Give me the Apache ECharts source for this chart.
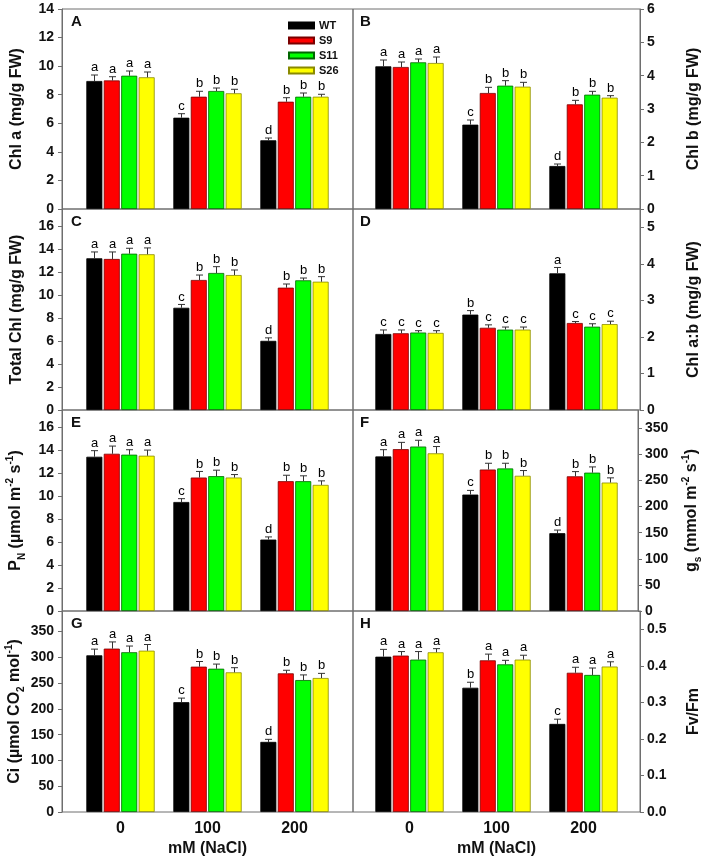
<!DOCTYPE html>
<html><head><meta charset="utf-8">
<script src="https://cdn.jsdelivr.net/npm/echarts@6/dist/echarts.min.js"></script>
<style>html,body{margin:0;padding:0;background:#fff}#c{width:704px;height:860px}</style>
</head><body><div id="c"></div><script>
// ---------------- data ----------------
const categories = ['0', '100', '200'];
const genotypes = ['WT', 'S9', 'S11', 'S26'];

// each array: one row per genotype (WT, S9, S11, S26), one value per NaCl level
const chlA_mean = [[8.96, 6.39, 4.81], [9.00, 7.86, 7.51], [9.33, 8.26, 7.86], [9.22, 8.10, 7.86]];
const chlA_se   = [[0.42, 0.28, 0.16], [0.26, 0.38, 0.28], [0.33, 0.21, 0.26], [0.37, 0.28, 0.17]];
const chlA_let  = [['a', 'c', 'd'], ['a', 'b', 'b'], ['a', 'b', 'b'], ['a', 'b', 'b']];

const chlB_mean = [[4.28, 2.53, 1.29], [4.26, 3.48, 3.14], [4.40, 3.70, 3.43], [4.38, 3.67, 3.34]];
const chlB_se   = [[0.19, 0.14, 0.06], [0.15, 0.17, 0.12], [0.10, 0.15, 0.10], [0.18, 0.13, 0.06]];
const chlB_let  = [['a', 'c', 'd'], ['a', 'b', 'b'], ['a', 'b', 'b'], ['a', 'b', 'b']];

const totChl_mean = [[13.21, 8.90, 6.02], [13.15, 11.32, 10.65], [13.61, 11.93, 11.29], [13.56, 11.75, 11.17]];
const totChl_se   = [[0.55, 0.29, 0.26], [0.61, 0.43, 0.32], [0.47, 0.55, 0.20], [0.55, 0.44, 0.44]];
const totChl_let  = [['a', 'c', 'd'], ['a', 'b', 'b'], ['a', 'b', 'b'], ['a', 'b', 'b']];

const ratio_mean = [[2.08, 2.61, 3.74], [2.10, 2.25, 2.38], [2.12, 2.20, 2.28], [2.11, 2.20, 2.35]];
const ratio_se   = [[0.11, 0.11, 0.16], [0.09, 0.08, 0.04], [0.05, 0.07, 0.08], [0.06, 0.07, 0.08]];
const ratio_let  = [['c', 'b', 'a'], ['c', 'c', 'c'], ['c', 'c', 'c'], ['c', 'c', 'c']];

const pn_mean = [[13.43, 9.49, 6.22], [13.69, 11.62, 11.30], [13.61, 11.74, 11.30], [13.52, 11.62, 10.98]];
const pn_se   = [[0.53, 0.29, 0.23], [0.67, 0.53, 0.52], [0.43, 0.52, 0.47], [0.49, 0.26, 0.35]];
const pn_let  = [['a', 'c', 'd'], ['a', 'b', 'b'], ['a', 'b', 'b'], ['a', 'b', 'b']];

const gs_mean = [[296, 223, 149], [310, 271, 258], [315, 273, 265], [302, 259, 246]];
const gs_se   = [[13, 8, 6], [13, 12, 9], [12, 10, 11], [13, 10, 9]];
const gs_let  = [['a', 'c', 'd'], ['a', 'b', 'b'], ['a', 'b', 'b'], ['a', 'b', 'b']];

const ci_mean = [[304, 213, 136], [317, 282, 269], [310, 278, 256], [313, 271, 260]];
const ci_se   = [[12, 8, 5], [13, 10, 6], [12, 9, 10], [12, 9, 9]];
const ci_let  = [['a', 'c', 'd'], ['a', 'b', 'b'], ['a', 'b', 'b'], ['a', 'b', 'b']];

const fvfm_mean = [[0.425, 0.340, 0.241], [0.428, 0.415, 0.381], [0.417, 0.404, 0.375], [0.437, 0.417, 0.398]];
const fvfm_se   = [[0.020, 0.015, 0.013], [0.011, 0.017, 0.015], [0.022, 0.011, 0.019], [0.010, 0.012, 0.013]];
const fvfm_let  = [['a', 'b', 'c'], ['a', 'a', 'a'], ['a', 'a', 'a'], ['a', 'a', 'a']];

// ---------------- styling / layout ----------------
const FONT = '"Liberation Sans", Arial, sans-serif';
const fills = ['#000000', '#ff0000', '#00ff00', '#ffff00'];
const borders = ['#000000', '#7a0000', '#006600', '#8a8a00'];
const BAR_W = 16, BAR_GAP = 0.09;
const PITCH = BAR_W * (1 + BAR_GAP);
const FRAME = '#6e6e6e';

const rowsTop = [9, 209, 410, 611];
const rowsBot = [209, 410, 611, 812];
const colFrame = [{ left: 62, right: 353 }, { left: 353, right: 640 }];
const BAND = 87;

const T = { fontSize: 16, fontWeight: 'bold', fontFamily: FONT, color: '#111' };
const richBase = {
  b: { fontSize: 16, fontWeight: 'bold', fontFamily: FONT, color: '#111', lineHeight: 22 },
  sub: { fontSize: 10, fontWeight: 'bold', fontFamily: FONT, color: '#111', verticalAlign: 'bottom', lineHeight: 22 },
  sup: { fontSize: 10, fontWeight: 'bold', fontFamily: FONT, color: '#111', verticalAlign: 'top', lineHeight: 22 }
};

const panels = [
  { tag: 'A', r: 0, c: 0, mean: chlA_mean, se: chlA_se, let: chlA_let, max: 14, interval: 2, showMax: true,
    name: '{b|Chl a (mg/g FW)}', gap: 34 },
  { tag: 'B', r: 0, c: 1, mean: chlB_mean, se: chlB_se, let: chlB_let, max: 6, interval: 1, showMax: true,
    name: '{b|Chl b (mg/g FW)}', gap: 43 },
  { tag: 'C', r: 1, c: 0, mean: totChl_mean, se: totChl_se, let: totChl_let, max: 17.5, interval: 2, showMax: false,
    name: '{b|Total Chl (mg/g FW)}', gap: 34 },
  { tag: 'D', r: 1, c: 1, mean: ratio_mean, se: ratio_se, let: ratio_let, max: 5.5, interval: 1, showMax: false,
    name: '{b|Chl a:b (mg/g FW)}', gap: 43 },
  { tag: 'E', r: 2, c: 0, mean: pn_mean, se: pn_se, let: pn_let, max: 17.5, interval: 2, showMax: false,
    name: '{b|P}{sub|N}{b| (µmol m}{sup|-2}{b| s}{sup|-1}{b|)}', gap: 35 },
  { tag: 'F', r: 2, c: 1, mean: gs_mean, se: gs_se, let: gs_let, max: 385, interval: 50, showMax: false,
    name: '{b|g}{sub|s}{b| (mmol m}{sup|-2}{b| s}{sup|-1}{b|)}', gap: 43 },
  { tag: 'G', r: 3, c: 0, mean: ci_mean, se: ci_se, let: ci_let, max: 390, interval: 50, showMax: false,
    name: '{b|Ci (µmol CO}{sub|2}{b| mol}{sup|-1}{b|)}', gap: 36 },
  { tag: 'H', r: 3, c: 1, mean: fvfm_mean, se: fvfm_se, let: fvfm_let, max: 0.55, interval: 0.1, showMax: false,
    name: '{b|Fv/Fm}', gap: 43, fmt: v => v.toFixed(1) }
];

const grid = [], xAxis = [], yAxis = [], series = [], title = [];

function errRenderer(g, letters) {
  return function (params, api) {
    const cat = api.value(0), m = api.value(1), s = api.value(2);
    const base = api.coord([cat, m]);
    const top = api.coord([cat, m + s]);
    const x = Math.round(base[0] + (g - 1.5) * PITCH) + 0.5;
    const cap = 3.5;
    return {
      type: 'group',
      children: [
        { type: 'line', shape: { x1: x, y1: base[1], x2: x, y2: top[1] }, style: { stroke: '#333', lineWidth: 1 } },
        { type: 'line', shape: { x1: x - cap, y1: top[1], x2: x + cap, y2: top[1] }, style: { stroke: '#333', lineWidth: 1 } },
        { type: 'text', style: { text: letters[params.dataIndex], x: x, y: top[1] - 1, align: 'center', verticalAlign: 'bottom',
            font: '13px ' + FONT, fill: '#000' } }
      ]
    };
  };
}

panels.forEach((p, k) => {
  const f = colFrame[p.c];
  const top = rowsTop[p.r], bot = rowsBot[p.r];
  const height = bot - top;
  const width = f.right - f.left;
  const center = (f.left + f.right) / 2;
  const isBottom = p.r === 3;
  const isRight = p.c === 1;

  // frame grid (box, y ticks/labels, y title)
  const fi = grid.length;
  grid.push({ left: f.left, top: top, width: width, height: height, show: true,
    borderColor: FRAME, borderWidth: 1, backgroundColor: 'transparent', containLabel: false });
  xAxis.push({ gridIndex: fi, type: 'value', min: 1, max: 2, show: false,
    axisLine: { show: false, onZero: false }, axisTick: { show: false }, axisLabel: { show: false }, splitLine: { show: false } });
  yAxis.push({
    gridIndex: fi, type: 'value', min: 0, max: p.max, interval: p.interval,
    position: isRight ? 'right' : 'left',
    axisLine: { show: true, onZero: false, lineStyle: { color: FRAME, width: 1 } },
    axisTick: { show: true, inside: false, length: 4, lineStyle: { color: FRAME } },
    splitLine: { show: false },
    axisLabel: { show: true, margin: isRight ? 7 : 8, fontSize: 14, fontWeight: 'bold', fontFamily: FONT, color: '#111',
      showMaxLabel: p.showMax, formatter: p.fmt ? p.fmt : (v => String(v)) },
    name: p.name, nameLocation: 'middle', nameRotate: 90,
    nameGap: p.gap,
    nameTextStyle: { rich: richBase }
  });

  // data grid (narrower category band)
  const di = grid.length;
  grid.push({ left: center - 1.5 * BAND, top: top, width: 3 * BAND, height: height, show: false, containLabel: false });
  xAxis.push({
    gridIndex: di, type: 'category', data: categories,
    axisLine: { show: false, onZero: false }, axisTick: { show: false }, splitLine: { show: false },
    axisLabel: { show: isBottom, margin: 9, fontSize: 16, fontWeight: 'bold', fontFamily: FONT, color: '#111' },
    name: isBottom ? 'mM (NaCl)' : '', nameLocation: 'middle', nameGap: 29,
    nameTextStyle: T
  });
  yAxis.push({ gridIndex: di, type: 'value', min: 0, max: p.max, show: false,
    axisLine: { show: false, onZero: false }, axisTick: { show: false }, axisLabel: { show: false }, splitLine: { show: false } });

  genotypes.forEach((g, gi) => {
    series.push({
      type: 'bar', name: g, xAxisIndex: di, yAxisIndex: di,
      data: p.mean[gi], barWidth: BAR_W, barGap: (BAR_GAP * 100) + '%',
      itemStyle: { color: fills[gi], borderColor: borders[gi], borderWidth: 0.8 },
      emphasis: { disabled: true }, animation: false, z: 2
    });
  });
  genotypes.forEach((g, gi) => {
    series.push({
      type: 'custom', name: g + ' err ' + p.tag, xAxisIndex: di, yAxisIndex: di,
      data: categories.map((c, i) => [i, p.mean[gi][i], p.se[gi][i]]),
      encode: { x: 0, y: 1 },
      renderItem: errRenderer(gi, p.let[gi]), clip: false, z: 5, animation: false, silent: true
    });
  });

  title.push({ text: p.tag, left: isRight ? f.left + 7 : f.left + 9, top: top + 5, padding: 0,
    textStyle: { fontSize: 15, fontWeight: 'bold', fontFamily: FONT, color: '#111' } });
});

const option = {
  backgroundColor: '#ffffff',
  animation: false,
  title: title,
  legend: {
    data: genotypes, orient: 'vertical', left: 288, top: 20, padding: 0,
    itemWidth: 25, itemHeight: 6, itemGap: 4, icon: 'rect',
    textStyle: { fontSize: 11, fontWeight: 'bold', fontFamily: FONT, color: '#111' }
  },
  grid: grid, xAxis: xAxis, yAxis: yAxis, series: series
};

const chart = echarts.init(document.getElementById('c'), null, { renderer: 'canvas' });
chart.setOption(option);
</script></body></html>
